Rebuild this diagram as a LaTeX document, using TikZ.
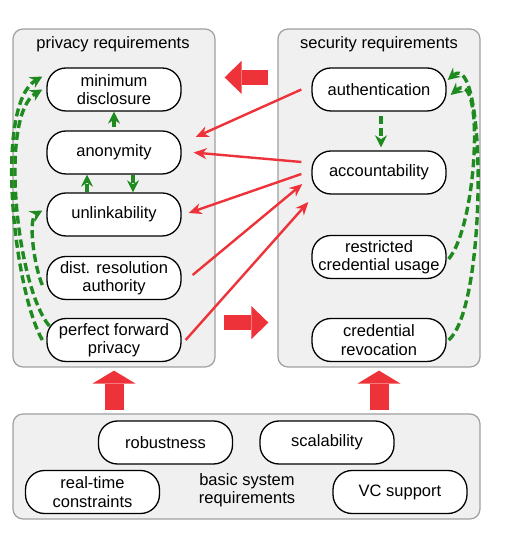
\documentclass[tikz,border=0pt]{standalone}
\usepackage{fontspec}
\setmainfont{Liberation Sans}
\definecolor{reqred}{HTML}{EE3239}
\definecolor{reqgreen}{HTML}{1F8A1F}
\definecolor{boxgray}{HTML}{F0F0F0}
\definecolor{boxedge}{HTML}{A0A0A0}
\usepackage{tikz}
\usetikzlibrary{arrows.meta,calc}

\begin{document}
\begin{tikzpicture}[x=1pt,y=1pt,
  font=\fontsize{16.5}{18.5}\selectfont,
  group/.style={draw=boxedge, fill=boxgray, line width=1.2pt, rounded corners=10pt},
  req/.style={draw=black, fill=white, line width=1.3pt, rounded corners=19pt,
    minimum width=134pt, minimum height=43pt, align=center, inner sep=2pt},
  impl/.style={reqred, line width=2.4pt, -{Stealth[length=13pt,width=11pt]}},
  dep/.style={reqgreen, line width=3.4pt, dash pattern=on 8pt off 4pt,
    -{Stealth[length=12pt,width=12pt]}},
  bigside/.style={reqred, line width=15pt, -{Triangle[length=17pt,width=33pt,line width=0pt]}},
  bigup/.style={reqred, line width=19pt, -{Triangle[length=13pt,width=43pt,line width=0pt]}}]
\useasboundingbox (0,0) rectangle (504,540);

% Groups
\node[group, minimum width=202pt, minimum height=338pt] (priv) at (114,342) {};
\node[group, minimum width=202pt, minimum height=338pt] (sec) at (379,342) {};
\node[group, minimum width=467pt, minimum height=105pt] (basic) at (246.5,73.5) {};
\node (privtitle) at (113,496) {privacy requirements};
\node (sectitle) at (379,496) {security requirements};
\node[align=center] (basictitle) at (247,50) {basic system\\requirements};

% Privacy requirements
\node[req] (md) at (114,450.5) {minimum\\disclosure};
\node[req] (anon) at (114,387.5) {anonymity};
\node[req] (unlink) at (114,325.5) {unlinkability};
\node[req] (dra) at (114,262) {dist. resolution\\authority};
\node[req] (pfp) at (114,200) {perfect forward\\privacy};

% Security requirements
\node[req] (auth) at (379,450.5) {authentication};
\node[req] (acc) at (379,367.5) {accountability};
\node[req] (rcu) at (379,283) {restricted\\credential usage};
\node[req] (crev) at (379,200) {credential\\revocation};

% Basic system requirements
\node[req] (rob) at (165.5,97.5) {robustness};
\node[req] (scal) at (327,97.5) {scalability};
\node[req] (rtc) at (92.5,48) {real-time\\constraints};
\node[req] (vcs) at (400,48) {VC support};

% Big arrows between groups
\draw[bigside] ($(sec.north west)+(-9,-49)$) -- ($(priv.north east)+(9,-49)$);
\draw[bigside] ($(priv.south east)+(8,45)$) -- ($(sec.south west)+(-9,45)$);
\draw[bigup] ([yshift=3]basic.north -| priv.south) -- ([yshift=-3]priv.south);
\draw[bigup] ([yshift=3]basic.north -| sec.south) -- ([yshift=-3]sec.south);

% Security -> privacy
\draw[impl] ([xshift=-10]auth.west) -- ([shift={(14,15.5)}]anon.east);
\draw[impl] ([shift={(-10,10.5)}]acc.west) -- ([xshift=12]anon.east);
\draw[impl] ([shift={(-10,-1.5)}]acc.west) -- ([shift={(7,1.5)}]unlink.east);
\draw[impl] ([shift={(11,3)}]dra.east) -- ([shift={(-9,-11.5)}]acc.west);
\draw[impl] ([xshift=4]pfp.east) -- ([shift={(-3,-29.5)}]acc.west);

% Dependencies
\draw[dep] ([yshift=3]anon.north) -- (md.south);
\draw[dep] ([xshift=-27]unlink.north) -- ([xshift=-27]anon.south);
\draw[dep] ([xshift=19]anon.south) -- ([xshift=19]unlink.north);
\draw[dep] ([shift={(2,-4)}]auth.south) -- ([shift={(2,3)}]acc.north);
\draw[dep] ([shift={(-4,0)}]pfp.west) to[out=120, in=210, looseness=0.55] ([shift={(-4,13)}]md.west);
\draw[dep] ([shift={(3,14)}]pfp.west) to[out=130, in=210, looseness=0.55] ([shift={(-4,0)}]md.west);
\draw[dep] ([shift={(-4,-7)}]dra.west) to[out=115, in=210, looseness=0.6] ([shift={(-4,4)}]unlink.west);
\draw[dep] ([shift={(2,-2)}]rcu.east) to[out=50, in=40, looseness=0.7] ([shift={(4,-5.5)}]auth.east);
\draw[dep] ([shift={(2,0)}]crev.east) to[out=40, in=40, looseness=0.5] ([shift={(1,9.5)}]auth.east);
\end{tikzpicture}
\end{document}
